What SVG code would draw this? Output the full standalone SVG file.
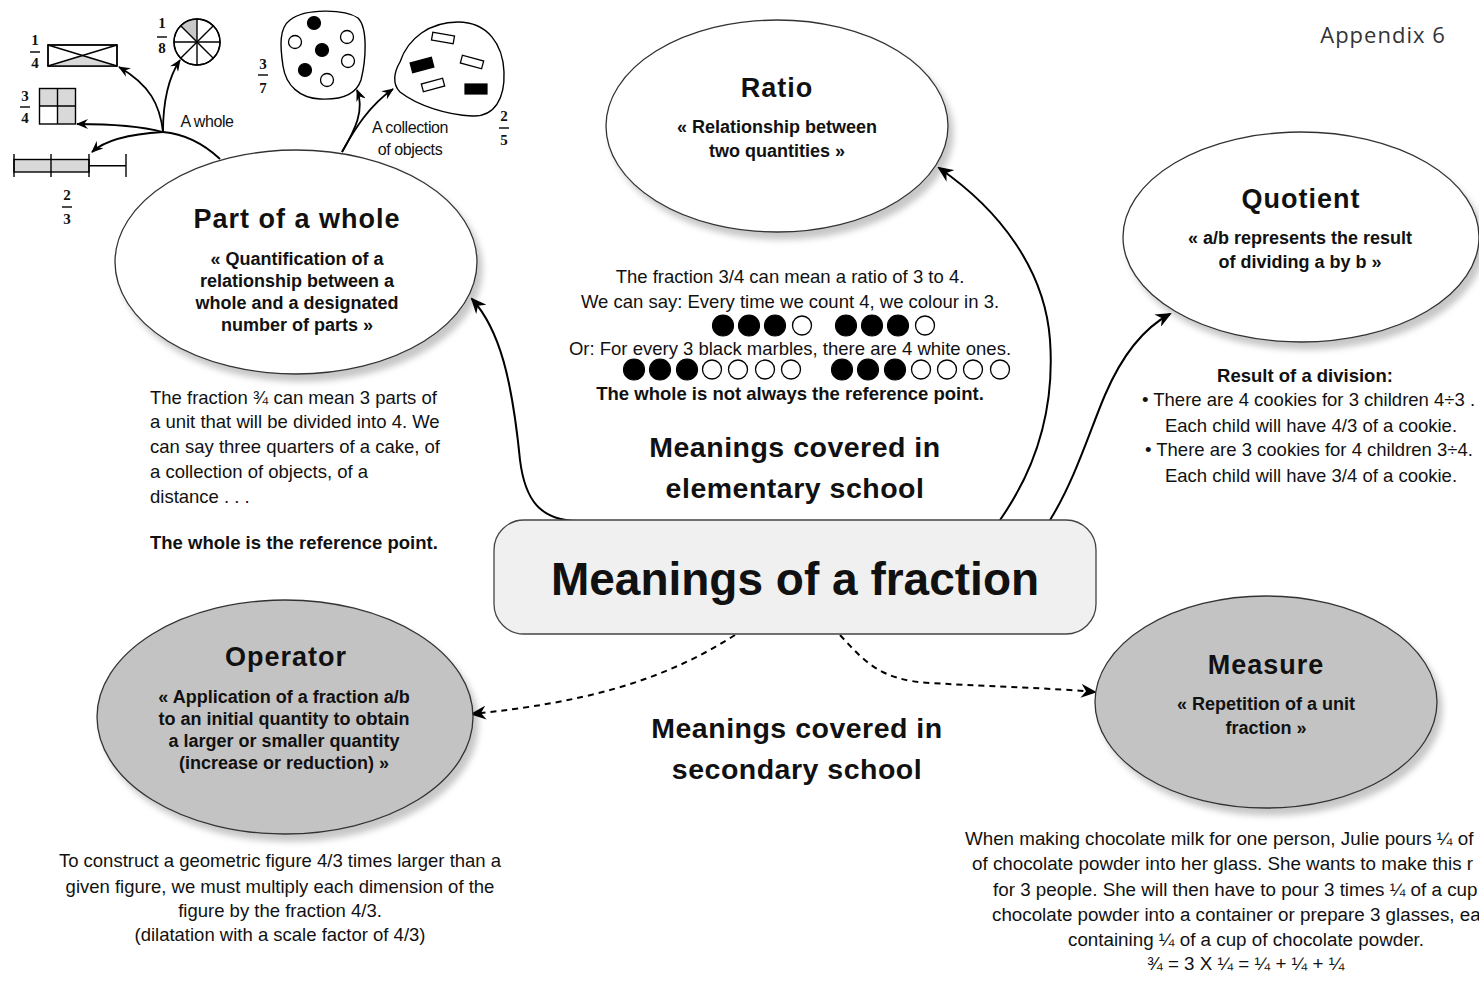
<svg xmlns="http://www.w3.org/2000/svg" width="1479" height="981" viewBox="0 0 1479 981">
<style>
text{font-family:"Liberation Sans",Arial,sans-serif;fill:#111}
.title{font-size:27px;font-weight:bold;text-anchor:middle;letter-spacing:1px}
.sub{font-size:18px;font-weight:bold;text-anchor:middle}
.body{font-size:18.5px}
.mid{text-anchor:middle}
.b{font-weight:bold}
.big{font-size:28.5px;font-weight:bold;text-anchor:middle;letter-spacing:0.5px}
.frac{font-family:"Liberation Serif","Times New Roman",serif;font-size:15px;font-weight:bold;text-anchor:middle}
.lbl{font-size:16px;text-anchor:middle;letter-spacing:-0.4px}
.ell{stroke:#333;stroke-width:1.3;filter:url(#sh)}
.conn{fill:none;stroke:#000;stroke-width:2}
.dash{fill:none;stroke:#000;stroke-width:2;stroke-dasharray:6 5}
.thin{fill:none;stroke:#000;stroke-width:1.8}
.ol{stroke:#000;stroke-width:1.4}
.bk{fill:#000;stroke:#000;stroke-width:1.2}
.wh{fill:#fff;stroke:#000;stroke-width:1.3}
</style>
<defs>
<filter id="sh" x="-10%" y="-10%" width="125%" height="130%">
<feDropShadow dx="5" dy="7" stdDeviation="3" flood-color="#000" flood-opacity="0.22"/>
</filter>
<marker id="ah" markerUnits="userSpaceOnUse" markerWidth="16" markerHeight="14" refX="14" refY="7" orient="auto">
<path d="M0,0 L16,7 L0,14 L5,7 Z" fill="#000"/>
</marker>
<marker id="ahs" markerUnits="userSpaceOnUse" markerWidth="12" markerHeight="10" refX="11" refY="5" orient="auto">
<path d="M0,0 L12,5 L0,10 L4,5 Z" fill="#000"/>
</marker>
</defs>
<rect width="1479" height="981" fill="#fff"/>

<text x="1383" y="43" style="font-family:'Open Sans','Liberation Sans',sans-serif;font-size:22px;fill:#333;letter-spacing:1px" text-anchor="middle">Appendix 6</text>

<g id="connectors">
<path class="conn" d="M577,521 C540,520 525,500 520,460 C512,380 500,330 472,299" marker-end="url(#ah)"/>
<path class="conn" d="M1000,520 C1035,470 1055,410 1050,340 C1045,270 1000,210 939,168" marker-end="url(#ah)"/>
<path class="conn" d="M1050,520 C1075,480 1090,430 1105,395 C1120,360 1140,330 1170,314" marker-end="url(#ah)"/>
<path class="dash" d="M735,635 C660,683 580,703 472,714" marker-end="url(#ah)"/>
<path class="dash" d="M840,635 C865,662 880,680 930,683 C1000,687 1050,688 1095,692" marker-end="url(#ah)"/>
<path class="thin" d="M220,159 C205,145 185,134 163,132"/>
<path class="thin" d="M163,132 C160,105 150,85 119,67" marker-end="url(#ahs)"/>
<path class="thin" d="M163,132 C163,100 168,78 180,60" marker-end="url(#ahs)"/>
<path class="thin" d="M163,132 C140,126 110,124 77,124" marker-end="url(#ahs)"/>
<path class="thin" d="M163,132 C130,134 105,140 92,152" marker-end="url(#ahs)"/>
<path class="thin" d="M342,152 C355,130 365,110 357,90" marker-end="url(#ahs)"/>
<path class="thin" d="M342,152 C355,128 370,105 393,89" marker-end="url(#ahs)"/>
</g>

<g id="part-of-whole">
<ellipse class="ell" cx="296" cy="262" rx="181" ry="112" fill="#fff"/>
<text class="title" x="297" y="228">Part of a whole</text>
<text class="sub" x="297" y="265">« Quantification of a</text>
<text class="sub" x="297" y="287">relationship between a</text>
<text class="sub" x="297" y="309">whole and a designated</text>
<text class="sub" x="297" y="331">number of parts »</text>
</g>
<g id="part-of-whole-text">
<text class="body" x="150" y="404">The fraction ¾ can mean 3 parts of</text>
<text class="body" x="150" y="428">a unit that will be divided into 4. We</text>
<text class="body" x="150" y="453">can say three quarters of a cake, of</text>
<text class="body" x="150" y="478">a collection of objects, of a</text>
<text class="body" x="150" y="503">distance . . .</text>
<text class="body b" x="150" y="549">The whole is the reference point.</text>
</g>

<g id="whole-illustrations">
<rect x="48" y="45" width="69" height="21" fill="#fff" class="ol"/>
<polygon points="48,66 117,66 82.5,55.5" fill="#d9d9d9"/>
<line x1="48" y1="45" x2="117" y2="66" class="ol"/>
<line x1="48" y1="66" x2="117" y2="45" class="ol"/>
<rect x="48" y="45" width="69" height="21" fill="none" class="ol"/>
<text class="frac" x="35" y="45">1</text><line x1="30" y1="52" x2="40" y2="52" class="ol"/><text class="frac" x="35" y="68">4</text>

<circle cx="197" cy="42" r="23" fill="#fff" class="ol"/>
<path d="M197,42 L197,19 A23,23 0 0 0 180.7,25.7 Z" fill="#c8c8c8"/>
<line x1="174" y1="42" x2="220" y2="42" class="ol"/>
<line x1="197" y1="19" x2="197" y2="65" class="ol"/>
<line x1="180.7" y1="25.7" x2="213.3" y2="58.3" class="ol"/>
<line x1="213.3" y1="25.7" x2="180.7" y2="58.3" class="ol"/>
<circle cx="197" cy="42" r="23" fill="none" class="ol"/>
<text class="frac" x="162" y="28">1</text><line x1="157" y1="37" x2="167" y2="37" class="ol"/><text class="frac" x="162" y="53">8</text>

<rect x="39.5" y="88.5" width="18" height="17.5" fill="#d9d9d9"/>
<rect x="57.5" y="88.5" width="18" height="17.5" fill="#d9d9d9"/>
<rect x="57.5" y="106" width="18" height="18" fill="#d9d9d9"/>
<rect x="39.5" y="88.5" width="36" height="35.5" fill="none" class="ol"/>
<line x1="57.5" y1="88.5" x2="57.5" y2="124" class="ol"/>
<line x1="39.5" y1="106" x2="75.5" y2="106" class="ol"/>
<text class="frac" x="25" y="101">3</text><line x1="20" y1="107" x2="30" y2="107" class="ol"/><text class="frac" x="25" y="123">4</text>

<rect x="14" y="159.5" width="75" height="12.5" fill="#d9d9d9" class="ol"/>
<line x1="89" y1="165.7" x2="126" y2="165.7" class="ol"/>
<line x1="14" y1="154" x2="14" y2="177" class="ol"/>
<line x1="51" y1="154" x2="51" y2="177" class="ol"/>
<line x1="89" y1="154" x2="89" y2="177" class="ol"/>
<line x1="126" y1="154" x2="126" y2="177" class="ol"/>
<text class="frac" x="67" y="200">2</text><line x1="62" y1="207" x2="72" y2="207" class="ol"/><text class="frac" x="67" y="224">3</text>

<text class="lbl" x="207" y="127">A whole</text>

<path d="M290,20 C305,8 345,9 358,18 C368,28 366,60 361,80 C356,95 340,100 320,99 C300,98 286,86 283,66 C280,46 279,28 290,20 Z" fill="#fff" class="ol"/>
<circle cx="314" cy="23" r="6.5" class="bk"/>
<circle cx="295" cy="42" r="6.5" class="wh"/>
<circle cx="322" cy="50" r="6.5" class="bk"/>
<circle cx="347" cy="37" r="6.5" class="wh"/>
<circle cx="348" cy="61" r="6.5" class="wh"/>
<circle cx="305" cy="70" r="6.5" class="bk"/>
<circle cx="327" cy="80" r="6.5" class="wh"/>
<text class="frac" x="263" y="69">3</text><line x1="258" y1="75" x2="268" y2="75" class="ol"/><text class="frac" x="263" y="93">7</text>

<path d="M400,62 C408,38 430,22 458,22 C488,22 503,45 504,72 C505,98 495,117 472,116 C448,115 418,106 400,92 C392,84 394,72 400,62 Z" fill="#fff" class="ol"/>
<rect x="432" y="34" width="22" height="8" transform="rotate(10 443 38)" class="wh"/>
<rect x="411" y="60" width="22" height="10" transform="rotate(-15 422 65)" class="bk"/>
<rect x="461" y="58" width="22" height="8" transform="rotate(15 472 62)" class="wh"/>
<rect x="422" y="81" width="22" height="8" transform="rotate(-15 433 85)" class="wh"/>
<rect x="465" y="84" width="22" height="10" class="bk"/>
<text class="frac" x="504" y="121">2</text><line x1="499" y1="128" x2="509" y2="128" class="ol"/><text class="frac" x="504" y="145">5</text>

<text class="lbl" x="410" y="133">A collection</text>
<text class="lbl" x="410" y="155">of objects</text>
</g>

<g id="ratio">
<ellipse class="ell" cx="777" cy="126" rx="171" ry="106" fill="#fff"/>
<text class="title" x="777" y="97">Ratio</text>
<text class="sub" x="777" y="133">« Relationship between</text>
<text class="sub" x="777" y="157">two quantities »</text>
</g>
<g id="ratio-text">
<text class="body mid" x="790" y="283">The fraction 3/4 can mean a ratio of 3 to 4.</text>
<text class="body mid" x="790" y="308">We can say: Every time we count 4, we colour in 3.</text>
<circle cx="723" cy="325.5" r="10.5" class="bk"/><circle cx="749" cy="325.5" r="10.5" class="bk"/><circle cx="775" cy="325.5" r="10.5" class="bk"/><circle cx="802" cy="325.5" r="9.5" class="wh"/>
<circle cx="846" cy="325.5" r="10.5" class="bk"/><circle cx="872" cy="325.5" r="10.5" class="bk"/><circle cx="898" cy="325.5" r="10.5" class="bk"/><circle cx="925" cy="325.5" r="9.5" class="wh"/>
<text class="body mid" x="790" y="355">Or: For every 3 black marbles, there are 4 white ones.</text>
<circle cx="634" cy="369.5" r="10.5" class="bk"/><circle cx="660" cy="369.5" r="10.5" class="bk"/><circle cx="687" cy="369.5" r="10.5" class="bk"/>
<circle cx="712" cy="369.5" r="9.5" class="wh"/><circle cx="738" cy="369.5" r="9.5" class="wh"/><circle cx="765" cy="369.5" r="9.5" class="wh"/><circle cx="791" cy="369.5" r="9.5" class="wh"/>
<circle cx="842" cy="369.5" r="10.5" class="bk"/><circle cx="868" cy="369.5" r="10.5" class="bk"/><circle cx="895" cy="369.5" r="10.5" class="bk"/>
<circle cx="921" cy="369.5" r="9.5" class="wh"/><circle cx="947" cy="369.5" r="9.5" class="wh"/><circle cx="973" cy="369.5" r="9.5" class="wh"/><circle cx="1000" cy="369.5" r="9.5" class="wh"/>
<text class="body mid b" x="790" y="400">The whole is not always the reference point.</text>
</g>

<g id="quotient">
<ellipse class="ell" cx="1301" cy="237" rx="178" ry="105" fill="#fff"/>
<text class="title" x="1301" y="208">Quotient</text>
<text class="sub" x="1300" y="244">« a/b represents the result</text>
<text class="sub" x="1300" y="268">of dividing a by b »</text>
</g>
<g id="quotient-text">
<text class="body mid b" x="1305" y="382">Result of a division:</text>
<text class="body" x="1142" y="406">• There are 4 cookies for 3 children 4÷3 .</text>
<text class="body mid" x="1311" y="432">Each child will have 4/3 of a cookie.</text>
<text class="body" x="1145" y="456">• There are 3 cookies for 4 children 3÷4.</text>
<text class="body mid" x="1311" y="482">Each child will have 3/4 of a cookie.</text>
</g>

<text class="big" x="795" y="457">Meanings covered in</text>
<text class="big" x="795" y="498">elementary school</text>

<g id="center">
<rect x="494" y="520" width="602" height="114" rx="30" fill="#f0f0f0" stroke="#444" stroke-width="1.3"/>
<text x="795" y="595" text-anchor="middle" style="font-size:46px;font-weight:bold">Meanings of a fraction</text>
</g>

<g id="operator">
<ellipse class="ell" cx="285" cy="717" rx="188" ry="117" fill="#c3c3c3"/>
<text class="title" x="286" y="666">Operator</text>
<text class="sub" x="284" y="703">« Application of a fraction a/b</text>
<text class="sub" x="284" y="725">to an initial quantity to obtain</text>
<text class="sub" x="284" y="747">a larger or smaller quantity</text>
<text class="sub" x="284" y="769">(increase or reduction) »</text>
</g>
<g id="operator-text">
<text class="body mid" x="280" y="867">To construct a geometric figure 4/3 times larger than a</text>
<text class="body mid" x="280" y="893">given figure, we must multiply each dimension of the</text>
<text class="body mid" x="280" y="917">figure by the fraction 4/3.</text>
<text class="body mid" x="280" y="941">(dilatation with a scale factor of 4/3)</text>
</g>

<text class="big" x="797" y="738">Meanings covered in</text>
<text class="big" x="797" y="779">secondary school</text>

<g id="measure">
<ellipse class="ell" cx="1266" cy="702" rx="171" ry="106" fill="#c3c3c3"/>
<text class="title" x="1266" y="674">Measure</text>
<text class="sub" x="1266" y="710">« Repetition of a unit</text>
<text class="sub" x="1266" y="734">fraction »</text>
</g>
<g id="measure-text" style="font-size:18.8px">
<text class="body" style="font-size:18.8px" x="965" y="845">When making chocolate milk for one person, Julie pours ¼ of</text>
<text class="body" style="font-size:18.8px" x="972" y="870">of chocolate powder into her glass. She wants to make this r</text>
<text class="body" style="font-size:18.8px" x="993" y="896">for 3 people. She will then have to pour 3 times ¼ of a cup</text>
<text class="body" style="font-size:18.8px" x="992" y="921">chocolate powder into a container or prepare 3 glasses, ea</text>
<text class="body" style="font-size:18.8px" x="1068" y="946">containing ¼ of a cup of chocolate powder.</text>
<text class="body" style="font-size:18.8px" x="1147" y="970">¾ = 3 X ¼ = ¼ + ¼ + ¼</text>
</g>
</svg>
